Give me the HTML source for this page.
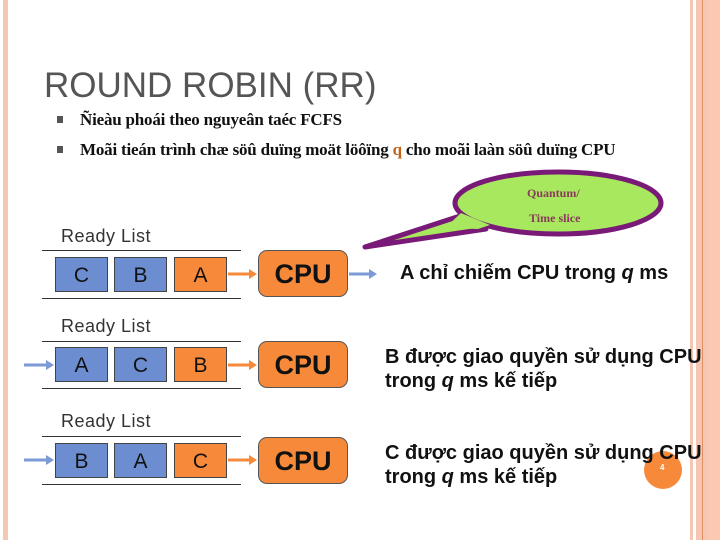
<!DOCTYPE html>
<html><head><meta charset="utf-8"><style>
body{margin:0;width:720px;height:540px;position:relative;background:#fff;overflow:hidden;font-family:"Liberation Sans",sans-serif}
.a{position:absolute}
.box{position:absolute;width:53px;height:35px;border:1px solid #444;box-sizing:border-box;text-align:center;line-height:35px;font-size:21px;color:#111}
.bl{background:#6c8ed0}.or{background:#f68a3a}
.cpu{position:absolute;left:258px;width:90px;height:47px;background:#f68a3a;border:1px solid #555;border-radius:9px;box-sizing:border-box;text-align:center;line-height:46px;font-size:27px;font-weight:bold;color:#111}
.rl{position:absolute;left:61px;font-size:18px;color:#333;letter-spacing:0.5px}
.hl{position:absolute;left:42px;width:199px;height:1px;background:#333}
.txt{position:absolute;left:385px;font-size:20px;line-height:24px;color:#111;font-weight:bold;white-space:nowrap}
</style></head><body>
<div class="a" style="left:3px;top:0;width:5px;height:540px;background:#f4c8b4"></div>
<div class="a" style="left:690px;top:0;width:3px;height:540px;background:#f6c6b4"></div>
<div class="a" style="left:696px;top:0;width:6px;height:540px;background:#f6c6b4"></div>
<div class="a" style="left:702px;top:0;width:1px;height:540px;background:#e09060"></div>
<div class="a" style="left:703px;top:0;width:5px;height:540px;background:#f6c6b4"></div>
<div class="a" style="left:708px;top:0;width:12px;height:540px;background:#fdc8b2"></div>

<div class="a" style="left:44px;top:66px;font-size:35px;color:#555;white-space:nowrap">ROUND ROBIN (RR)</div>
<div class="a" style="left:57px;top:116px;width:6px;height:7px;background:#555"></div>
<div class="a" style="left:57px;top:146px;width:6px;height:7px;background:#555"></div>
<div class="a" style="left:80px;top:110px;font-family:'Liberation Serif',serif;font-size:17px;font-weight:bold;letter-spacing:-0.2px;color:#111;white-space:nowrap">Ñieàu phoái theo nguyeân taéc FCFS</div>
<div class="a" style="left:80px;top:140px;font-family:'Liberation Serif',serif;font-size:17px;font-weight:bold;letter-spacing:-0.2px;color:#111;white-space:nowrap">Moãi tieán trình chæ söû duïng moät löôïng <span style="color:#c0641c">q</span> cho moãi laàn söû duïng CPU</div>

<svg class="a" style="left:0;top:0" width="720" height="540">
<polygon points="365,247 460,216 486,229" fill="#a8e85e" stroke="#7a1a78" stroke-width="5" stroke-linejoin="round"/>
<ellipse cx="558" cy="203" rx="103" ry="31" fill="#a8e85e" stroke="#7a1a78" stroke-width="5"/>
<polygon points="445,228 461,213 490,225 478,229" fill="#a8e85e"/>
<g stroke-width="3" fill="none">
<line x1="228" y1="274" x2="250" y2="274" stroke="#f68a3a"/><path d="M249,269 L257,274 L249,279Z" fill="#f68a3a" stroke="none"/>
<line x1="228" y1="365" x2="250" y2="365" stroke="#f68a3a"/><path d="M249,360 L257,365 L249,370Z" fill="#f68a3a" stroke="none"/>
<line x1="228" y1="460" x2="250" y2="460" stroke="#f68a3a"/><path d="M249,455 L257,460 L249,465Z" fill="#f68a3a" stroke="none"/>
<line x1="349" y1="274" x2="370" y2="274" stroke="#7b9ad6"/><path d="M369,269 L377,274 L369,279Z" fill="#7b9ad6" stroke="none"/>
<line x1="24" y1="365" x2="47" y2="365" stroke="#7b9ad6"/><path d="M46,360 L54,365 L46,370Z" fill="#7b9ad6" stroke="none"/>
<line x1="24" y1="460" x2="47" y2="460" stroke="#7b9ad6"/><path d="M46,455 L54,460 L46,465Z" fill="#7b9ad6" stroke="none"/>
</g>
<circle cx="663" cy="470" r="19" fill="#f68a3a"/>
</svg>
<div class="a" style="left:527px;top:186px;font-family:'Liberation Serif',serif;font-size:12px;font-weight:bold;color:#8a3a5a">Quantum/</div>
<div class="a" style="left:529px;top:211px;font-family:'Liberation Serif',serif;font-size:12px;font-weight:bold;color:#8a3a5a">Time slice</div>
<div class="a" style="left:660px;top:463px;font-size:8px;color:#fff;font-weight:bold">4</div>

<div class="rl" style="top:226px">Ready List</div>
<div class="hl" style="top:250px"></div><div class="hl" style="top:298px"></div>
<div class="box bl" style="left:55px;top:257px">C</div><div class="box bl" style="left:114px;top:257px">B</div><div class="box or" style="left:174px;top:257px">A</div>
<div class="cpu" style="top:250px">CPU</div>
<div class="txt" style="left:400px;top:261px">A chỉ chiếm CPU trong <i>q</i> ms</div>

<div class="rl" style="top:316px">Ready List</div>
<div class="hl" style="top:341px"></div><div class="hl" style="top:388px"></div>
<div class="box bl" style="left:55px;top:347px">A</div><div class="box bl" style="left:114px;top:347px">C</div><div class="box or" style="left:174px;top:347px">B</div>
<div class="cpu" style="top:341px">CPU</div>
<div class="txt" style="top:345px">B được giao quyền sử dụng CPU<br>trong <i>q</i> ms kế tiếp</div>

<div class="rl" style="top:411px">Ready List</div>
<div class="hl" style="top:436px"></div><div class="hl" style="top:484px"></div>
<div class="box bl" style="left:55px;top:443px">B</div><div class="box bl" style="left:114px;top:443px">A</div><div class="box or" style="left:174px;top:443px">C</div>
<div class="cpu" style="top:437px">CPU</div>
<div class="txt" style="top:441px">C được giao quyền sử dụng CPU<br>trong <i>q</i> ms kế tiếp</div>
</body></html>
